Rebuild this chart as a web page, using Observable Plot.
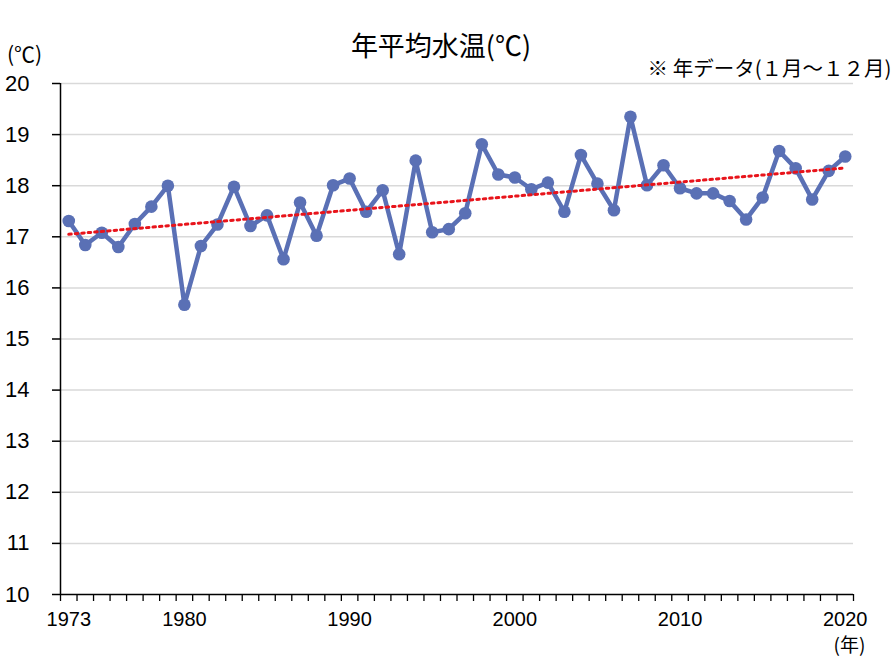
<!DOCTYPE html>
<html>
<head>
<meta charset="utf-8">
<script src="https://cdn.jsdelivr.net/npm/d3@7"></script>
<script src="https://cdn.jsdelivr.net/npm/@observablehq/plot@0.6"></script>
<style>
  html, body { margin: 0; padding: 0; background: #fff; }
  #chart svg { display: block; }
</style>
</head>
<body>
<div id="chart"></div>
<script>
const years = [1973,1974,1975,1976,1977,1978,1979,1980,1981,1982,1983,1984,1985,1986,1987,1988,
  1989,1990,1991,1992,1993,1994,1995,1996,1997,1998,1999,2000,2001,2002,2003,2004,
  2005,2006,2007,2008,2009,2010,2011,2012,2013,2014,2015,2016,2017,2018,2019,2020];
const temps = [17.31,16.84,17.08,16.80,17.25,17.59,18.00,15.67,16.82,17.24,17.98,17.21,17.42,16.56,17.67,17.02,
  18.01,18.14,17.49,17.91,16.66,18.49,17.09,17.15,17.46,18.81,18.22,18.16,17.93,18.06,17.49,18.60,
  18.04,17.52,19.35,18.01,18.40,17.95,17.85,17.85,17.70,17.34,17.77,18.68,18.34,17.73,18.29,18.57];
const xTickLabels = [1973,1980,1990,2000,2010,2020];
const yTicks = [10,11,12,13,14,15,16,17,18,19,20];
const titleText = "年平均水温(℃)";
const yUnitText = "(℃)";
const noteText = "※ 年データ(１月～１２月)";
const xUnitText = "(年)";

const data = years.map((y, i) => ({year: y, temp: temps[i]}));
const boundaries = d3.range(years[0] - 0.5, years[years.length - 1] + 1, 1);

const jp = "'Noto Sans CJK JP', 'Noto Sans', sans-serif";
const num = "'Liberation Sans', Arial, sans-serif";

const chart = Plot.plot({
  width: 896,
  height: 669,
  marginLeft: 60,
  marginRight: 43,
  marginTop: 83,
  marginBottom: 75,
  style: {fontFamily: num, background: "#fff", color: "#000"},
  x: {domain: [years[0] - 0.5, years[years.length - 1] + 0.5]},
  y: {domain: [10, 20]},
  marks: [
    Plot.gridY(yTicks.filter(d => d > 10), {stroke: "#d9d9d9", strokeOpacity: 1, strokeWidth: 1.5}),
    Plot.axisY(yTicks, {tickSize: 8, tickPadding: 23, fontSize: 22, tickFormat: d => String(d), label: null, stroke: "#000", strokeWidth: 1.5}),
    Plot.axisX(boundaries, {tickSize: 7, tickFormat: () => "", label: null, stroke: "#000", strokeWidth: 1.3}),
    Plot.axisX(xTickLabels, {tickSize: 0, tickPadding: 17, fontSize: 20, tickFormat: d => String(d), label: null}),
    Plot.ruleX([years[0] - 0.5], {stroke: "#000", strokeWidth: 1.5}),
    Plot.ruleY([10], {stroke: "#000", strokeWidth: 1.5}),
    Plot.line(data, {x: "year", y: "temp", stroke: "#5a70b5", strokeWidth: 4.5, strokeLinejoin: "round"}),
    Plot.dot(data, {x: "year", y: "temp", r: 6.3, fill: "#5a70b5", stroke: "none"}),
    Plot.linearRegressionY(data, {x: "year", y: "temp", ci: 0, stroke: "#e8141b", strokeWidth: 3, strokeDasharray: "2.5,4"}),
    Plot.text([titleText], {text: d => d, frameAnchor: "top", textAnchor: "middle", dx: -16, dy: -47, fontSize: 27, fontFamily: jp, fill: "#000"}),
    Plot.text([yUnitText], {text: d => d, frameAnchor: "top-left", textAnchor: "middle", dx: -36, dy: -36, fontSize: 21, fontFamily: jp, fill: "#000"}),
    Plot.text([noteText], {text: d => d, frameAnchor: "top-right", textAnchor: "end", dx: 38, dy: -22, fontSize: 20.5, fontFamily: jp, fill: "#000"}),
    Plot.text([xUnitText], {text: d => d, frameAnchor: "bottom-right", textAnchor: "middle", dx: -4, dy: 57, fontSize: 19, fontFamily: jp, fill: "#000"})
  ]
});
document.getElementById("chart").appendChild(chart);
</script>
</body>
</html>
